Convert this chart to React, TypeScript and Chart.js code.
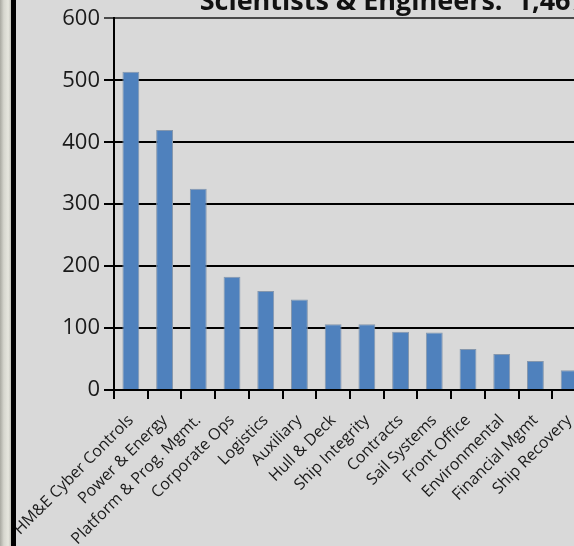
import React, { useEffect, useRef } from "react";
import { Chart, registerables } from "chart.js";

Chart.register(...registerables);

const categories = [
  "HM&E Cyber Controls",
  "Power & Energy",
  "Platform & Prog. Mgmt.",
  "Corporate Ops",
  "Logistics",
  "Auxiliary",
  "Hull & Deck",
  "Ship Integrity",
  "Contracts",
  "Sail Systems",
  "Front Office",
  "Environmental",
  "Financial Mgmt",
  "Ship Recovery",
];
const headcount = [514, 420, 325, 183, 160, 146, 106, 106, 94, 93, 66, 58, 47, 32];
const yTicks = [0, 100, 200, 300, 400, 500, 600];
const titleText = "Scientists & Engineers:  1,467";

const FONT = "'Open Sans', 'DejaVu Sans', sans-serif";

export default function App() {
  const ref = useRef<HTMLCanvasElement | null>(null);

  useEffect(() => {
    if (!ref.current) return;
    const chart = new Chart(ref.current, {
      type: "bar",
      data: {
        labels: categories,
        datasets: [
          {
            data: headcount,
            backgroundColor: "#4f81bd",
            borderColor: "#8597ad",
            borderWidth: 1,
            barPercentage: 0.5,
            categoryPercentage: 1,
          },
        ],
      },
      options: {
        responsive: false,
        animation: false,
        devicePixelRatio: 1,
        layout: { padding: { left: 0, right: 184, top: 0, bottom: 0 } },
        plugins: {
          legend: { display: false },
          tooltip: { enabled: false },
          title: {
            display: true,
            text: titleText,
            align: "end",
            color: "#111",
            font: { family: FONT, size: 27, weight: "bold" },
            padding: { top: 16, bottom: 0 },
          },
        },
        scales: {
          x: {
            type: "category",
            offset: true,
            grid: {
              offset: true,
              drawOnChartArea: false,
              drawTicks: true,
              tickLength: 9,
              color: "#000",
              lineWidth: 2,
            },
            border: { display: true, color: "#000", width: 2 },
            ticks: {
              autoSkip: false,
              minRotation: 45,
              maxRotation: 45,
              color: "#1a1a1a",
              font: { family: FONT, size: 16 },
              padding: 12,
            },
            afterFit: (scale: any) => {
              scale.height = 160;
            },
          },
          y: {
            min: 0,
            max: 600,
            afterBuildTicks: (scale: any) => {
              scale.ticks = yTicks.map((v) => ({ value: v }));
            },
            grid: {
              color: (ctx: any) => (ctx.tick && ctx.tick.value === 600 ? "#4a4a4a" : "#000"),
              lineWidth: 2,
              drawTicks: true,
              tickLength: 10,
            },
            border: { display: true, color: "#000", width: 2 },
            ticks: {
              color: "#1a1a1a",
              font: { family: FONT, size: 22 },
              padding: 4,
            },
            afterFit: (scale: any) => {
              scale.width = 134;
            },
          },
        },
      },
    });
    return () => chart.destroy();
  }, []);

  return (
    <div
      style={{
        position: "fixed",
        left: 0,
        top: 0,
        width: 574,
        height: 546,
        overflow: "hidden",
        background: "#d9d9d9",
      }}
    >
      <canvas
        ref={ref}
        width={790}
        height={580}
        style={{ position: "absolute", left: -20, top: -30, width: 790, height: 580 }}
      />
      <div
        style={{
          position: "absolute",
          left: 0,
          top: 0,
          width: 11,
          height: 546,
          background: "linear-gradient(to right, #a9a9a1, #d6d6ce 35%, #e6e6de 75%, #c4c4bc)",
        }}
      />
      <div
        style={{
          position: "absolute",
          left: 11,
          top: 0,
          width: 5,
          height: 546,
          background: "#000",
        }}
      />
    </div>
  );
}
